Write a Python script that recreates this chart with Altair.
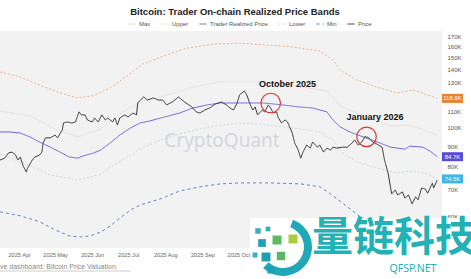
import altair as alt
import pandas as pd

# ---------------- data (values in thousands of USD) ----------------
price = [("2025-03-16",83.1),("2025-03-20",84.0),("2025-03-23",86.5),("2025-03-26",87.0),("2025-03-29",85.5),("2025-03-31",83.1),("2025-04-02",84.5),("2025-04-04",80.7),("2025-04-07",77.5),("2025-04-08",79.3),("2025-04-12",83.1),("2025-04-14",84.5),("2025-04-18",85.5),("2025-04-20",87.0),("2025-04-21",91.7),("2025-04-23",94.4),("2025-04-27",94.4),("2025-05-01",96.0),("2025-05-03",94.4),("2025-05-07",98.8),("2025-05-08",102.9),("2025-05-11",103.5),("2025-05-15",102.9),("2025-05-18",103.5),("2025-05-21",109.7),("2025-05-23",107.8),("2025-05-26",107.8),("2025-05-28",104.7),("2025-06-01",103.5),("2025-06-03",105.9),("2025-06-06",103.5),("2025-06-09",107.8),("2025-06-12",104.7),("2025-06-14",105.9),("2025-06-18",103.5),("2025-06-20",105.9),("2025-06-22",101.7),("2025-06-24",105.9),("2025-06-28",107.8),("2025-07-01",106.6),("2025-07-05",109.0),("2025-07-08",107.8),("2025-07-09",115.5),("2025-07-13",118.9),("2025-07-14",119.6),("2025-07-17",117.5),("2025-07-22",118.9),("2025-07-26",117.5),("2025-07-30",117.5),("2025-08-02",114.2),("2025-08-07",116.2),("2025-08-12",119.6),("2025-08-14",118.2),("2025-08-17",116.2),("2025-08-23",113.0),("2025-08-27",109.6),("2025-08-30",109.0),("2025-09-03",110.9),("2025-09-07",112.2),("2025-09-12",114.9),("2025-09-17",116.2),("2025-09-21",114.2),("2025-09-24",112.2),("2025-09-27",110.9),("2025-09-30",115.5),("2025-10-02",121.0),("2025-10-06",123.8),("2025-10-08",121.0),("2025-10-11",114.2),("2025-10-13",110.9),("2025-10-15",112.9),("2025-10-17",107.8),("2025-10-21",110.9),("2025-10-23",109.6),("2025-10-26",114.2),("2025-10-28",112.2),("2025-10-30",109.0),("2025-11-02",109.6),("2025-11-03",106.6),("2025-11-06",102.9),("2025-11-09",104.7),("2025-11-11",103.5),("2025-11-15",97.1),("2025-11-17",91.7),("2025-11-20",88.0),("2025-11-22",84.0),("2025-11-24",87.0),("2025-11-27",90.6),("2025-11-30",89.0),("2025-12-02",92.2),("2025-12-06",89.5),("2025-12-08",90.6),("2025-12-11",87.0),("2025-12-14",89.0),("2025-12-17",88.0),("2025-12-19",89.5),("2025-12-22",89.0),("2025-12-27",89.5),("2025-12-31",89.5),("2026-01-04",91.7),("2026-01-06",93.3),("2026-01-09",90.6),("2026-01-12",92.2),("2026-01-15",95.4),("2026-01-16",94.4),("2026-01-17",95.0),("2026-01-21",92.2),("2026-01-23",91.7),("2026-01-26",90.6),("2026-01-29",89.5),("2026-01-31",83.1),("2026-02-03",77.1),("2026-02-05",71.0),("2026-02-06",68.3),("2026-02-09",69.9),("2026-02-11",67.9),("2026-02-15",69.1),("2026-02-17",66.7),("2026-02-20",67.9),("2026-02-23",64.5),("2026-02-26",67.2),("2026-02-28",66.0),("2026-03-03",70.7),("2026-03-06",70.3),("2026-03-08",68.6),("2026-03-12",72.7),("2026-03-13",70.7),("2026-03-16",74.0)]

trader_realized = [("2025-03-16",97.7),("2025-03-24",97.7),("2025-04-02",97.1),("2025-04-10",94.9),("2025-04-18",92.2),("2025-04-27",89.5),("2025-05-05",87.0),("2025-05-13",84.5),("2025-05-20",84.0),("2025-05-24",85.0),("2025-06-02",86.5),("2025-06-08",88.0),("2025-06-16",91.7),("2025-06-24",96.0),("2025-07-03",100.0),("2025-07-11",102.9),("2025-07-19",104.1),("2025-07-28",105.9),("2025-08-13",109.0),("2025-08-24",112.2),("2025-09-05",114.2),("2025-09-16",115.5),("2025-10-02",115.5),("2025-10-22",115.5),("2025-11-07",114.2),("2025-11-19",113.0),("2025-12-02",112.2),("2025-12-14",109.7),("2025-12-19",104.7),("2025-12-25",100.6),("2026-01-02",97.7),("2026-01-13",95.0),("2026-01-25",92.2),("2026-02-05",89.5),("2026-02-17",88.5),("2026-02-21",90.0),("2026-03-04",89.5),("2026-03-10",87.5),("2026-03-16",84.7)]

band_max = [("2025-03-16",138.1),("2025-04-02",134.2),("2025-04-18",128.1),("2025-05-05",122.4),("2025-05-19",119.0),("2025-06-02",120.4),("2025-06-16",126.0),("2025-06-30",135.0),("2025-07-13",144.6),("2025-08-02",152.4),("2025-08-19",158.5),("2025-09-10",162.2),("2025-10-02",163.1),("2025-10-25",161.4),("2025-11-16",159.5),("2025-12-08",155.9),("2025-12-19",148.0),("2025-12-25",139.7),("2026-01-08",131.9),("2026-01-25",126.5),("2026-02-10",122.4),("2026-02-24",124.5),("2026-03-08",121.0),("2026-03-16",118.6)]

band_upper = [("2025-03-16",110.3),("2025-04-10",107.2),("2025-05-05",98.2),("2025-05-20",94.9),("2025-06-08",99.4),("2025-06-24",108.4),("2025-07-11",116.2),("2025-07-28",119.6),("2025-08-24",126.5),("2025-09-16",130.6),("2025-10-22",130.6),("2025-11-19",127.3),("2025-12-14",123.8),("2025-12-25",113.6),("2026-01-13",107.2),("2026-02-05",101.1),("2026-02-21",101.7),("2026-03-16",96.0)]

band_lower = [("2025-03-16",86.0),("2025-04-13",79.7),("2025-04-27",76.2),("2025-05-11",74.9),("2025-05-20",74.0),("2025-05-30",75.3),("2025-06-08",76.6),("2025-06-16",79.7),("2025-06-30",84.5),("2025-07-11",88.5),("2025-07-28",93.3),("2025-08-13",96.6),("2025-08-30",99.4),("2025-09-16",101.7),("2025-10-02",102.9),("2025-10-19",102.3),("2025-11-07",100.6),("2025-11-22",99.4),("2025-12-08",97.7),("2025-12-19",93.3),("2025-12-29",85.5),("2026-01-08",82.2),("2026-01-19",80.2),("2026-02-10",77.1),("2026-02-21",78.0),("2026-03-06",77.1),("2026-03-16",74.5)]

band_min = [("2025-03-16",61.6),("2025-04-02",60.2),("2025-04-18",58.2),("2025-05-01",55.5),("2025-05-13",53.6),("2025-05-22",53.3),("2025-05-30",53.6),("2025-06-08",54.8),("2025-06-16",56.8),("2025-06-24",59.4),("2025-07-03",62.3),("2025-07-11",64.1),("2025-07-28",66.4),("2025-08-13",69.5),("2025-08-30",71.2),("2025-09-16",72.4),("2025-10-02",72.8),("2025-10-27",72.8),("2025-11-22",72.4),("2025-12-08",71.2),("2025-12-17",68.3),("2025-12-29",64.1),("2026-01-11",59.8),("2026-01-27",57.1),("2026-02-13",54.8),("2026-03-02",53.6),("2026-03-16",52.4)]

series_names = ["Max", "Upper", "Trader Realized Price", "Lower", "Min", "Price"]
series_colors = ["#efb38a", "#e6e2df", "#6c63d3", "#c3dce2", "#5f84c4", "#2e2e2e"]
series_dashes = [[2, 2], [1, 0], [1, 0], [2, 2], [3, 3], [1, 0]]

y_tick_values = [60, 70, 80, 90, 100, 110, 130, 140, 150, 160, 170]

end_label_values = [118.6, 84.7, 74.5]
end_label_texts = ["118.6K", "84.7K", "74.5K"]
end_label_colors = ["#e8822f", "#5a4bd6", "#3db6e4"]

annot_dates = ["2025-10-28", "2026-01-16"]
annot_values = [115.5, 95.0]
annot_text_dates = ["2025-11-11", "2026-01-23"]
annot_text_values = [128.7, 106.5]
annot_texts = ["October 2025", "January 2026"]

# watermark logo tiles (decoration of the overlaid watermark)
logo_tiles = [(258, 200, 30, "#35aeb8"), (268, 198, 22, "#35aeb8"), (262, 212, 60, "#1fa3b4"),
              (277, 209, 80, "#5db862"), (293, 208, 80, "#a9cd3d"), (266, 226, 80, "#1d9fb1"),
              (281, 225, 70, "#5ab567"), (271, 239, 50, "#1aa0b3"), (255, 224, 25, "#3fb0b9")]

# ---------------- build tables ----------------
rows = []
for name, pts in [("Upper", band_upper), ("Max", band_max), ("Lower", band_lower),
                  ("Min", band_min), ("Trader Realized Price", trader_realized), ("Price", price)]:
    for d, v in pts:
        rows.append({"date": d, "value": v, "series": name})
df = pd.DataFrame(rows)

ends = pd.DataFrame({"value": end_label_values, "text": end_label_texts, "col": end_label_colors})
circles = pd.DataFrame({"date": annot_dates, "value": annot_values})
notes = pd.DataFrame({"date": annot_text_dates, "value": annot_text_values, "text": annot_texts})
tiles = pd.DataFrame(logo_tiles, columns=["px", "py", "s", "c"])

FONT = "Liberation Sans"

month_ticks = [alt.DateTime(year=2025, month=m, date=1) for m in range(4, 11)]

x_enc = alt.X("date:T", title=None,
              scale=alt.Scale(domain=[alt.DateTime(year=2025, month=3, date=16),
                                      alt.DateTime(year=2026, month=3, date=20)]),
              axis=alt.Axis(format="%Y %b", values=month_ticks, labelFontSize=5.6,
                            labelColor="#666", labelFont=FONT, ticks=False, domain=False,
                            grid=False, labelPadding=4))
y_scale = alt.Scale(type="log", domain=[50, 175], nice=False)
y_enc = alt.Y("value:Q", title=None, scale=y_scale,
              axis=alt.Axis(orient="right", values=y_tick_values, labelExpr="datum.value + 'K'",
                            labelFontSize=6, labelColor="#555", labelFont=FONT, ticks=False,
                            domain=False, grid=False, labelPadding=5))

legend = alt.Legend(orient="none", legendX=128, legendY=-11, direction="horizontal",
                    title=None, labelFontSize=6, labelColor="#555", labelFont=FONT,
                    symbolType="stroke", symbolSize=49, symbolStrokeWidth=1,
                    columnPadding=8, labelOffset=3, padding=0)
color_enc = alt.Color("series:N", scale=alt.Scale(domain=series_names, range=series_colors),
                      legend=legend, sort=series_names)
dash_enc = alt.StrokeDash("series:N", scale=alt.Scale(domain=series_names, range=series_dashes),
                          legend=legend, sort=series_names)

base = alt.Chart(df).encode(x=x_enc, y=y_enc, color=color_enc, strokeDash=dash_enc)
bands = base.transform_filter("datum.series != 'Price' && datum.series != 'Trader Realized Price'") \
    .mark_line(strokeWidth=1, clip=True)
trp = base.transform_filter("datum.series == 'Trader Realized Price'").mark_line(strokeWidth=1)
px = base.transform_filter("datum.series == 'Price'").mark_line(strokeWidth=1)

cq = alt.Chart(pd.DataFrame({"t": ["CryptoQuant"]})).mark_text(
    fontSize=19, font="Noto Sans", color="#d4d6de", align="center", baseline="middle"
).encode(x=alt.value(222), y=alt.value(110), text="t:N")

circ = alt.Chart(circles).mark_point(shape="circle", size=380, filled=False,
                                     stroke="#d63a3a", strokeWidth=1.2, opacity=1).encode(
    x="date:T", y=alt.Y("value:Q", scale=y_scale))

note_txt = alt.Chart(notes).mark_text(fontSize=9, fontWeight="bold", font=FONT, color="#111",
                                      align="center", baseline="middle").encode(
    x="date:T", y=alt.Y("value:Q", scale=y_scale), text="text:N")

end_rect = alt.Chart(ends).mark_rect(height=9, clip=False).encode(
    x=alt.value(442), x2=alt.value(463), y=alt.Y("value:Q", scale=y_scale),
    color=alt.Color("col:N", scale=None, legend=None))
end_txt = alt.Chart(ends).mark_text(fontSize=6, font=FONT, color="white", align="center",
                                    baseline="middle").encode(
    x=alt.value(452.5), y=alt.Y("value:Q", scale=y_scale), text="text:N")

# overlay watermark (white band + logo + text)
wm_bg = alt.Chart(pd.DataFrame({"a": [0]})).mark_rect(color="white").encode(
    x=alt.value(250), x2=alt.value(480), y=alt.value(187), y2=alt.value(260))
wm_arc = alt.Chart(pd.DataFrame({"a": [0]})).mark_arc(
    innerRadius=21, outerRadius=29, theta=0.35, theta2=3.9, color="#1ea8b8"
).encode(x=alt.value(283), y=alt.value(216))
wm_tiles = alt.Chart(tiles).mark_square(opacity=1).encode(
    x=alt.X("px:Q", scale=None), y=alt.Y("py:Q", scale=None),
    size=alt.Size("s:Q", scale=None), color=alt.Color("c:N", scale=None))
wm_txt = alt.Chart(pd.DataFrame({"t": ["量链科技"]})).mark_text(
    fontSize=41, font="Noto Sans CJK SC", fontWeight="bold", color="#22b2b6", align="left",
    baseline="middle"
).encode(x=alt.value(312), y=alt.value(208), text="t:N")
wm_sub = alt.Chart(pd.DataFrame({"t": ["QFSP.NET"]})).mark_text(
    fontSize=10.5, font="Noto Sans", color="#22b2b6", align="center", baseline="middle"
).encode(x=alt.value(413), y=alt.value(238), text="t:N")

footer = alt.Chart(pd.DataFrame({"t": ["Live dashboard: Bitcoin Price Valuation."]})).mark_text(
    fontSize=7, font=FONT, color="#888", align="left", baseline="middle"
).encode(x=alt.value(-5.5), y=alt.value(236), text="t:N")
footer_line = alt.Chart(pd.DataFrame({"a": [0]})).mark_rule(color="#aaa", strokeWidth=0.6).encode(
    x=alt.value(0), x2=alt.value(131), y=alt.value(240))

chart = alt.layer(bands, trp, px, cq, circ, note_txt, end_rect, end_txt,
                  wm_bg, wm_arc, wm_tiles, wm_txt, wm_sub, footer, footer_line).properties(
    width=442, height=217,
    title=alt.TitleParams("Bitcoin: Trader On-chain Realized Price Bands", fontSize=9.5,
                          font=FONT, fontWeight="bold", color="#222", anchor="middle",
                          frame="group", dx=14, offset=4),
    autosize=alt.AutoSizeParams(type="none"),
    padding={"left": 0, "top": 31, "right": 29, "bottom": 31},
    background="white",
).configure_view(fill="#f2f2f2", strokeWidth=0)

chart.save("out.html", embed_options={"renderer": "svg", "actions": False})
